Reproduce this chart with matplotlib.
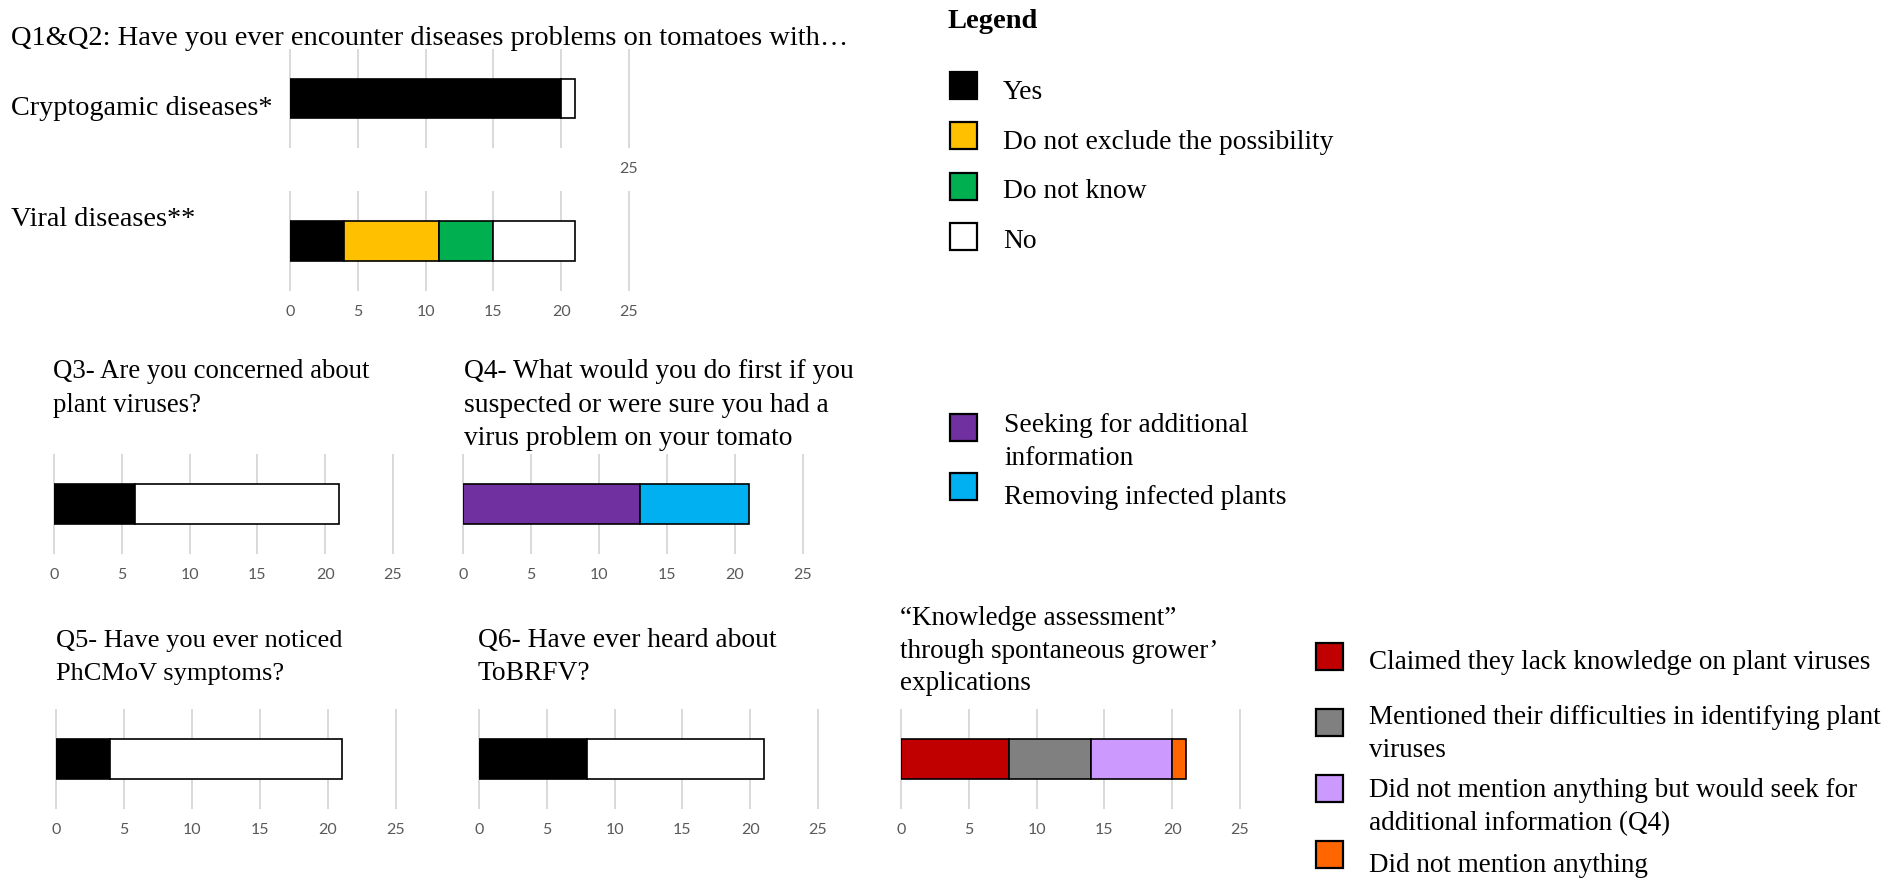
import matplotlib
matplotlib.use("Agg")
import matplotlib.pyplot as plt
from matplotlib.patches import Rectangle
import numpy as np

W, H = 1902, 888
SERIF = "Liberation Serif"
TICKFONT = "Lato"
FS = 19.8

# ---------------- data ----------------
q12_categories = ["Cryptogamic diseases*", "Viral diseases**"]
q12_series = ["Yes", "Do not exclude the possibility", "Do not know", "No"]
q12_yes = [20, 4]
q12_not_exclude = [0, 7]
q12_do_not_know = [0, 4]
q12_no = [1, 6]

q3_yes = [6]
q3_no = [15]

q4_series = ["Seeking for additional\ninformation", "Removing infected plants"]
q4_seeking = [13]
q4_removing = [8]

q5_yes = [4]
q5_no = [17]

q6_yes = [8]
q6_no = [13]

knowledge_series = [
    "Claimed they lack knowledge on plant viruses",
    "Mentioned their difficulties in identifying plant\nviruses",
    "Did not mention anything but would seek for\nadditional information (Q4)",
    "Did not mention anything",
]
knowledge_values = [8, 6, 6, 1]

tick_values = [0, 5, 10, 15, 20, 25]
tick_labels = ["0", "5", "10", "15", "20", "25"]
tick_labels_top = ["", "", "", "", "", "25"]

C_YES = "#000000"
C_NOTEX = "#FFC000"
C_DK = "#00B050"
C_NO = "#FFFFFF"
C_SEEK = "#7030A0"
C_REM = "#00B0F0"
K_COLORS = ["#C00000", "#808080", "#CC99FF", "#FF6600"]

fig = plt.figure(figsize=(W / 100, H / 100), dpi=100)
fig.patch.set_facecolor("white")

bg = fig.add_axes([0, 0, 1, 1])
bg.set_xlim(0, W)
bg.set_ylim(H, 0)
bg.axis("off")


def txt(x, y, s, **kw):
    kw.setdefault("fontsize", FS)
    kw.setdefault("family", SERIF)
    bg.text(x, y, s, va="baseline", ha="left", color="black", **kw)


def lines(x, y0, step, s, **kw):
    for i, ln in enumerate(s.split("\n")):
        txt(x, y0 + i * step, ln, **kw)


def swatch(x, y, color):
    bg.add_patch(Rectangle((x, y), 27, 27, facecolor=color, edgecolor="black",
                           linewidth=1.6))


def bar_axes(x0, x25, gy0, gy1, values, colors, labels):
    ax = fig.add_axes([x0 / W, 1 - gy1 / H, (x25 - x0) / W, (gy1 - gy0) / H])
    ax.set_xlim(0, 25)
    ax.set_ylim(-0.5, 0.5)
    vals = np.asarray(values, dtype=float)
    lefts = np.concatenate([[0], np.cumsum(vals)[:-1]])
    for v, l, c in zip(vals, lefts, colors):
        if v > 0:
            ax.barh(0, v, left=l, height=0.41, color=c, edgecolor="black",
                    linewidth=1.2, zorder=3)
    ax.set_yticks([])
    ax.set_xticks(tick_values)
    ax.set_xticklabels(labels)
    ax.grid(axis="x", color="#d9d9d9", linewidth=1.4, zorder=0)
    ax.set_axisbelow(True)
    for gl in ax.get_xgridlines():
        gl.set_clip_on(False)
    for s in ax.spines.values():
        s.set_visible(False)
    ax.tick_params(axis="x", length=0, pad=10.5, labelsize=11.5, labelcolor="#595959")
    for t in ax.get_xticklabels():
        t.set_fontfamily(TICKFONT)
    ax.patch.set_visible(False)
    return ax


# ---------------- Q1 & Q2 ----------------
txt(11, 45, "Q1&Q2: Have you ever encounter diseases problems on tomatoes with\u2026",
    fontsize=20.5)
q12_colors = [C_YES, C_NOTEX, C_DK, C_NO]
rows = list(zip(q12_yes, q12_not_exclude, q12_do_not_know, q12_no))
bar_axes(290, 629, 50, 147, rows[0], q12_colors, tick_labels_top)
bar_axes(290, 629, 192, 290, rows[1], q12_colors, tick_labels)
txt(11, 115, q12_categories[0], fontsize=20.3)
txt(11, 226, q12_categories[1], fontsize=20.3)

# Legend (top)
txt(948, 28, "Legend", weight="bold", fontsize=20.5)
for i, (lab, col) in enumerate(zip(q12_series, q12_colors)):
    swatch(950, 72 + i * 50.3, col)
    txt(1003, 99 + i * 49.7, lab)

# ---------------- Q3 ----------------
lines(53, 378, 33.5, "Q3- Are you concerned about\nplant viruses?", fontsize=19.3)
bar_axes(54, 393, 455, 553, q3_yes + q3_no, [C_YES, C_NO], tick_labels)

# ---------------- Q4 ----------------
lines(464, 378, 33.5, "Q4- What would you do first if you\nsuspected or were sure you had a\nvirus problem on your tomato")
bar_axes(463, 803, 455, 553, q4_seeking + q4_removing, [C_SEEK, C_REM], tick_labels)
swatch(950, 414, C_SEEK)
lines(1004, 432, 33, q4_series[0])
swatch(950, 473, C_REM)
txt(1004, 504, q4_series[1])

# ---------------- Q5 ----------------
lines(56, 647, 33, "Q5- Have you ever noticed\nPhCMoV symptoms?", fontsize=19.0)
bar_axes(56, 396, 710, 808, q5_yes + q5_no, [C_YES, C_NO], tick_labels)

# ---------------- Q6 ----------------
lines(478, 647, 33, "Q6- Have ever heard about\nToBRFV?")
bar_axes(479, 818, 710, 808, q6_yes + q6_no, [C_YES, C_NO], tick_labels)

# ---------------- Knowledge ----------------
lines(900, 625, 32.5, "\u201cKnowledge assessment\u201d\nthrough spontaneous grower\u2019\nexplications",
      fontsize=19.5)
bar_axes(901, 1240, 710, 808, knowledge_values, K_COLORS, tick_labels)
k_box_y = [643, 709, 775, 841]
k_txt_y = [669, 724, 797, 872]
for lab, col, by, ty in zip(knowledge_series, K_COLORS, k_box_y, k_txt_y):
    swatch(1316, by, col)
    lines(1369, ty, 33, lab, fontsize=19.5)

fig.savefig("out.png", dpi=100, facecolor="white")
